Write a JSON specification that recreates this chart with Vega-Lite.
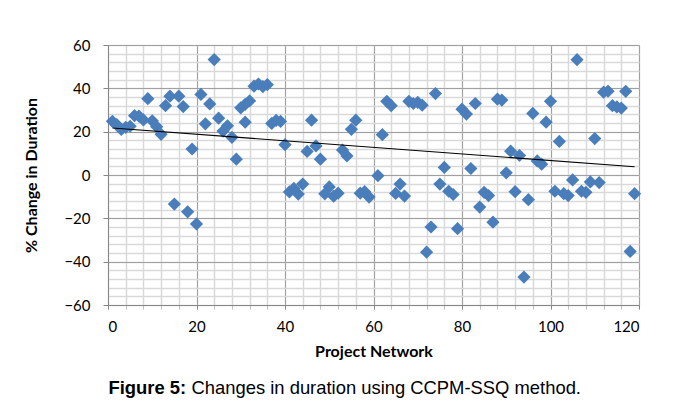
{
  "$schema": "https://vega.github.io/schema/vega-lite/v6.json",
  "width": 531,
  "height": 260,
  "autosize": {"type": "none"},
  "padding": {"left": 108, "top": 45, "right": 44, "bottom": 100},
  "background": "white",
  "config": {"view": {"stroke": "#a6a6a6", "strokeWidth": 1}, "font": "Lato"},
  "datasets": {
    "pts": [
      {"network": 1, "change": 24.8}, {"network": 2, "change": 23.2}, {"network": 3, "change": 21},
      {"network": 4, "change": 22}, {"network": 5, "change": 22.5}, {"network": 6, "change": 27.4},
      {"network": 7, "change": 27.2}, {"network": 8, "change": 25.4}, {"network": 9, "change": 35.2},
      {"network": 10, "change": 25}, {"network": 11, "change": 22.3}, {"network": 12, "change": 18.8},
      {"network": 13, "change": 32}, {"network": 14, "change": 36.4}, {"network": 15, "change": -13.4},
      {"network": 16, "change": 36.4}, {"network": 17, "change": 31.6}, {"network": 18, "change": -17},
      {"network": 19, "change": 12}, {"network": 20, "change": -22.6}, {"network": 21, "change": 37.2},
      {"network": 22, "change": 23.6}, {"network": 23, "change": 32.8}, {"network": 24, "change": 53.3},
      {"network": 25, "change": 26.2}, {"network": 26, "change": 20.3}, {"network": 27, "change": 22.7},
      {"network": 28, "change": 17.4}, {"network": 29, "change": 7.3}, {"network": 30, "change": 31},
      {"network": 31, "change": 32.6}, {"network": 31, "change": 24.4}, {"network": 32, "change": 34.2},
      {"network": 33, "change": 41}, {"network": 34, "change": 42}, {"network": 35, "change": 40.8},
      {"network": 36, "change": 41.7}, {"network": 37, "change": 23.8}, {"network": 38, "change": 25.2},
      {"network": 39, "change": 24.7}, {"network": 40, "change": 14}, {"network": 41, "change": -7.8},
      {"network": 42, "change": -6.2}, {"network": 43, "change": -8.8}, {"network": 44, "change": -4.2},
      {"network": 45, "change": 10.9}, {"network": 46, "change": 25.3}, {"network": 47, "change": 13.4},
      {"network": 48, "change": 7.3}, {"network": 49, "change": -8.7}, {"network": 50, "change": -5.5},
      {"network": 51, "change": -9.8}, {"network": 52, "change": -8.4}, {"network": 53, "change": 11.5},
      {"network": 54, "change": 8.8}, {"network": 55, "change": 21.1}, {"network": 56, "change": 25.3},
      {"network": 57, "change": -8.4}, {"network": 58, "change": -7.7}, {"network": 59, "change": -10.2},
      {"network": 61, "change": -0.3}, {"network": 62, "change": 18.6}, {"network": 63, "change": 34},
      {"network": 64, "change": 32}, {"network": 65, "change": -8.5}, {"network": 66, "change": -4.2},
      {"network": 67, "change": -9.7}, {"network": 68, "change": 34}, {"network": 69, "change": 33},
      {"network": 70, "change": 33.5}, {"network": 71, "change": 32.2}, {"network": 72, "change": -35.6},
      {"network": 73, "change": -24}, {"network": 74, "change": 37.6}, {"network": 75, "change": -4.2},
      {"network": 76, "change": 3.5}, {"network": 77, "change": -7.5}, {"network": 78, "change": -9},
      {"network": 79, "change": -24.8}, {"network": 80, "change": 30.4}, {"network": 81, "change": 28.1},
      {"network": 82, "change": 3}, {"network": 83, "change": 33}, {"network": 84, "change": -14.8},
      {"network": 85, "change": -8}, {"network": 86, "change": -9.5}, {"network": 87, "change": -21.8},
      {"network": 88, "change": 35}, {"network": 89, "change": 34.6}, {"network": 90, "change": 1},
      {"network": 91, "change": 11}, {"network": 92, "change": -7.7}, {"network": 93, "change": 9},
      {"network": 94, "change": -47.1}, {"network": 95, "change": -11.4}, {"network": 96, "change": 28.4},
      {"network": 97, "change": 6.5}, {"network": 98, "change": 5}, {"network": 99, "change": 24.4},
      {"network": 100, "change": 34}, {"network": 101, "change": -7.5}, {"network": 102, "change": 15.5},
      {"network": 103, "change": -8.6}, {"network": 104, "change": -9.5}, {"network": 105, "change": -2.3},
      {"network": 106, "change": 53.2}, {"network": 107, "change": -7.5}, {"network": 108, "change": -8},
      {"network": 109, "change": -3.2}, {"network": 110, "change": 16.8}, {"network": 111, "change": -3.5},
      {"network": 112, "change": 38.2}, {"network": 113, "change": 38.7}, {"network": 114, "change": 32},
      {"network": 115, "change": 31.4}, {"network": 116, "change": 30.9}, {"network": 117, "change": 38.6},
      {"network": 118, "change": -35.3}, {"network": 119, "change": -8.6}
    ],
    "trend": [
      {"network": 1, "change": 21.7},
      {"network": 119, "change": 3.8}
    ]
  },
  "layer": [
    {
      "data": {"name": "pts"},
      "mark": {"type": "point", "shape": "diamond", "filled": true, "size": 175, "color": "#4a7ebb", "opacity": 1},
      "encoding": {
        "x": {
          "field": "network", "type": "quantitative",
          "scale": {"domain": [0, 120], "nice": false, "zero": false},
          "axis": {
            "orient": "bottom",
            "values": [0,4,8,12,16,20,24,28,32,36,40,44,48,52,56,60,64,68,72,76,80,84,88,92,96,100,104,108,112,116,120],
            "grid": true, "gridColor": "#d9d9d9", "gridWidth": 1.5,
            "labels": false, "domain": false,
            "ticks": true, "tickSize": 4, "tickColor": "#bfbfbf",
            "title": "Changes in duration using CCPM-SSQ method.",
            "titleFont": "Liberation Sans", "titleFontSize": 18.4, "titleFontWeight": "normal",
            "titleColor": "#000000", "titleAlign": "left", "titleAnchor": "start",
            "titleBaseline": "alphabetic", "titleX": 83, "titleY": 88
          }
        },
        "y": {
          "field": "change", "type": "quantitative",
          "scale": {"domain": [-60, 60], "nice": false, "zero": false},
          "axis": {
            "orient": "left",
            "values": [-60,-56,-52,-48,-44,-40,-36,-32,-28,-24,-20,-16,-12,-8,-4,0,4,8,12,16,20,24,28,32,36,40,44,48,52,56,60],
            "grid": true, "gridColor": "#d9d9d9", "gridWidth": 1.5,
            "labels": false, "domain": false, "ticks": false,
            "title": "Figure 5:",
            "titleFont": "Liberation Sans", "titleFontSize": 18.4, "titleFontWeight": "bold",
            "titleColor": "#000000", "titleAngle": 0, "titleAlign": "left", "titleAnchor": "start",
            "titleBaseline": "alphabetic", "titleX": 0, "titleY": 348
          }
        }
      }
    },
    {
      "data": {"name": "trend"},
      "mark": {"type": "line", "color": "#000000", "strokeWidth": 1.2},
      "encoding": {
        "x": {
          "field": "network", "type": "quantitative",
          "scale": {"domain": [0, 120], "nice": false, "zero": false},
          "axis": {
            "orient": "bottom",
            "values": [0, 20, 40, 60, 80, 100, 120],
            "grid": true, "gridColor": "#a0a0a0", "gridWidth": 1,
            "domainColor": "#868686", "tickColor": "#868686", "tickSize": 4,
            "labelFont": "Lato", "labelFontSize": 15, "labelColor": "#000000", "labelPadding": 10,
            "title": "Project Network", "titleFont": "Lato", "titleFontSize": 16,
            "titleFontWeight": "bold", "titleColor": "#000000", "titlePadding": 9
          }
        },
        "y": {
          "field": "change", "type": "quantitative",
          "scale": {"domain": [-60, 60], "nice": false, "zero": false},
          "axis": {
            "orient": "left",
            "values": [-60, -40, -20, 0, 20, 40, 60],
            "grid": true, "gridColor": "#a0a0a0", "gridWidth": 1,
            "domainColor": "#868686", "tickColor": "#868686", "tickSize": 5,
            "labelFont": "Lato", "labelFontSize": 15, "labelColor": "#000000", "labelPadding": 13,
            "title": "% Change in Duration", "titleFont": "Lato", "titleFontSize": 16,
            "titleFontWeight": "bold", "titleColor": "#000000", "titlePadding": 24
          }
        }
      }
    }
  ],
  "resolve": {"axis": {"x": "independent", "y": "independent"}}
}
